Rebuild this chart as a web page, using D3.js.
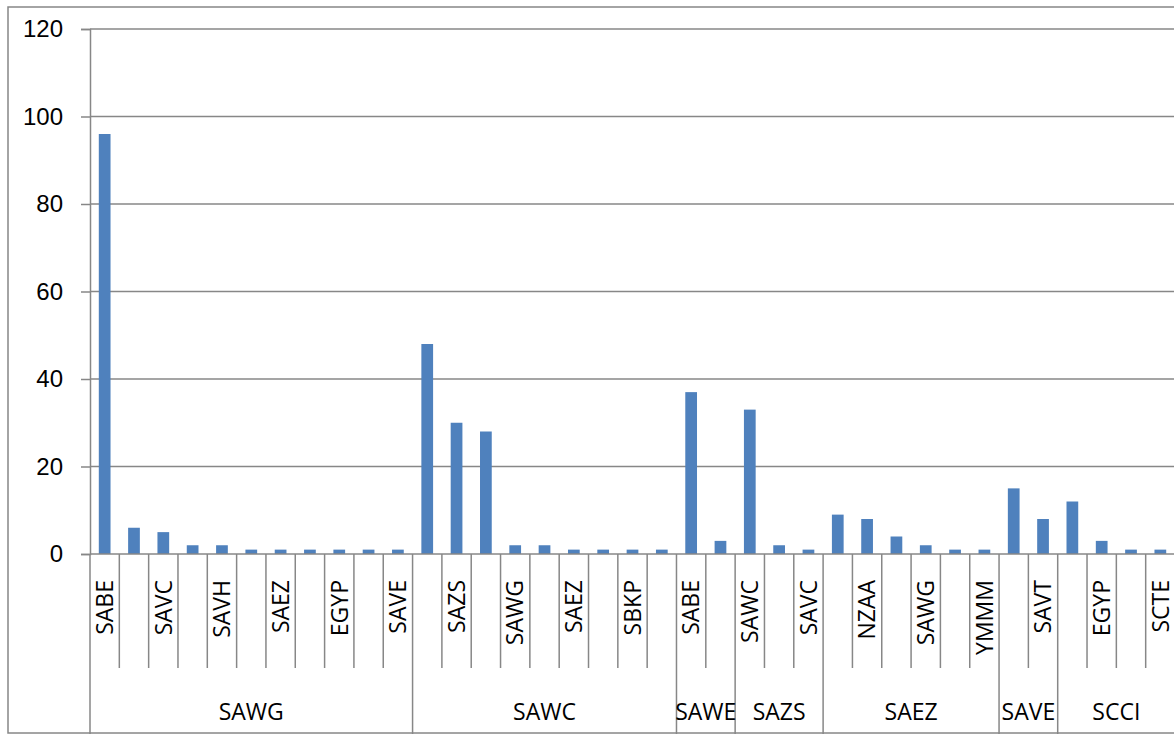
<!DOCTYPE html>
<html>
<head>
<meta charset="utf-8">
<script src="https://cdn.jsdelivr.net/npm/d3@7"></script>
<style>
  body { margin: 0; background: #fff; }
  svg { display: block; font-family: "Open Sans", sans-serif; }
</style>
</head>
<body>
<div id="chart"></div>
<script>
// category labels (Excel skipped every other label, so those are blank)
const categories = [
  "SABE", "", "SAVC", "", "SAVH", "", "SAEZ", "", "EGYP", "", "SAVE",
  "", "SAZS", "", "SAWG", "", "SAEZ", "", "SBKP", "",
  "SABE", "",
  "SAWC", "", "SAVC",
  "", "NZAA", "", "SAWG", "", "YMMM",
  "", "SAVT",
  "", "EGYP", "", "SCTE"
];
const values = [
  96, 6, 5, 2, 2, 1, 1, 1, 1, 1, 1,
  48, 30, 28, 2, 2, 1, 1, 1, 1,
  37, 3,
  33, 2, 1,
  9, 8, 4, 2, 1, 1,
  15, 8,
  12, 3, 1, 1
];
const groupNames = ["SAWG", "SAWC", "SAWE", "SAZS", "SAEZ", "SAVE", "SCCI"];
const groupSizes = [11, 9, 2, 3, 6, 2, 4];
const yTicks = [0, 20, 40, 60, 80, 100, 120];

const width = 1174;
const height = 734;
const marginLeft = 90;
const plotRight = 1175;   // plot runs a bit past the picture edge
const plotTop = 29;
const plotBottom = 554;
const catLineBottom = 668;
const groupLineBottom = 734;

const gridColor = "#878787";
const barColor = "#4f81bd";

const svg = d3.select("#chart").append("svg")
    .attr("width", width)
    .attr("height", height)
    .attr("viewBox", [0, 0, width, height]);

// outer chart border
svg.append("rect")
    .attr("x", 8).attr("y", 7)
    .attr("width", width + 10).attr("height", 726)
    .attr("fill", "none")
    .attr("stroke", gridColor)
    .attr("stroke-width", 1.5);

const idx = d3.range(categories.length);

const x = d3.scaleBand()
    .domain(idx)
    .range([marginLeft, plotRight]);

const y = d3.scaleLinear()
    .domain([0, 120])
    .range([plotBottom, plotTop]);

// gridlines + y axis
svg.append("g")
    .attr("transform", `translate(${marginLeft},0)`)
    .call(d3.axisLeft(y).tickValues(yTicks).tickSize(9).tickPadding(18))
    .call(g => g.select(".domain").attr("stroke", gridColor).attr("stroke-width", 1.5))
    .call(g => g.selectAll(".tick line").attr("stroke", gridColor).attr("stroke-width", 1.5))
    .call(g => g.selectAll(".tick text")
        .attr("font-size", 24).attr("fill", "#000"));

svg.append("g")
    .selectAll("line")
    .data(yTicks.filter(d => d > 0))
    .join("line")
    .attr("x1", marginLeft).attr("x2", width)
    .attr("y1", d => y(d)).attr("y2", d => y(d))
    .attr("stroke", gridColor)
    .attr("stroke-width", 1.5);

// bars
svg.append("g")
    .selectAll("rect")
    .data(values)
    .join("rect")
    .attr("x", (d, i) => x(i) + x.bandwidth() * 0.3)
    .attr("width", x.bandwidth() * 0.4)
    .attr("y", d => y(d))
    .attr("height", d => y(0) - y(d))
    .attr("fill", barColor);

// x axis baseline
svg.append("line")
    .attr("x1", marginLeft).attr("x2", width)
    .attr("y1", y(0)).attr("y2", y(0))
    .attr("stroke", gridColor)
    .attr("stroke-width", 1.5);

// group boundaries
const groupStarts = groupSizes.map((s, i) => d3.sum(groupSizes.slice(0, i)));
const groupEdges = new Set(groupStarts);

// category separators
svg.append("g")
    .selectAll("line")
    .data(idx.filter(i => !groupEdges.has(i)))
    .join("line")
    .attr("x1", i => x(i)).attr("x2", i => x(i))
    .attr("y1", y(0)).attr("y2", catLineBottom)
    .attr("stroke", gridColor)
    .attr("stroke-width", 1.5);

svg.append("g")
    .selectAll("line")
    .data(groupStarts)
    .join("line")
    .attr("x1", i => x(i)).attr("x2", i => x(i))
    .attr("y1", y(0)).attr("y2", groupLineBottom)
    .attr("stroke", gridColor)
    .attr("stroke-width", 1.5);

// category labels
svg.append("g")
    .selectAll("text")
    .data(idx.filter(i => categories[i]))
    .join("text")
    .attr("transform", i => `translate(${x(i) + x.bandwidth() / 2},580) rotate(-90)`)
    .attr("text-anchor", "end")
    .attr("dy", "0.36em")
    .attr("font-size", 23)
    .attr("fill", "#000")
    .text(i => categories[i]);

// group labels
svg.append("g")
    .selectAll("text")
    .data(groupNames)
    .join("text")
    .attr("x", (d, i) => (x(groupStarts[i]) + x(groupStarts[i] + groupSizes[i] - 1) + x.bandwidth()) / 2)
    .attr("y", 720)
    .attr("text-anchor", "middle")
    .attr("font-size", 23)
    .attr("fill", "#000")
    .text(d => d);
</script>
</body>
</html>
